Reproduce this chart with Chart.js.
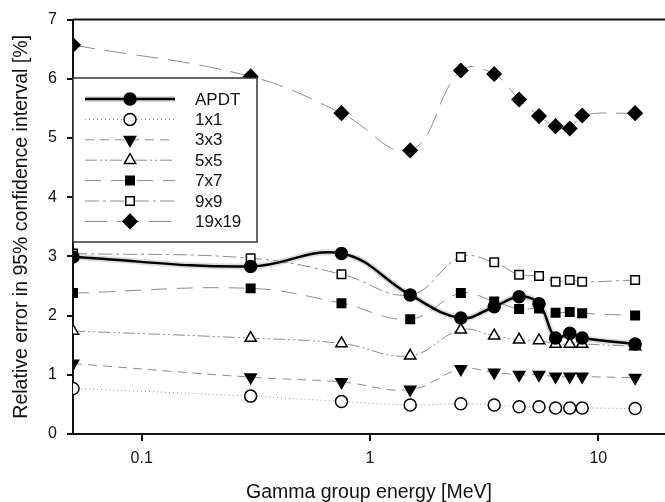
<!DOCTYPE html>
<html>
<head>
<meta charset="utf-8">
<script src="https://cdn.jsdelivr.net/npm/chart.js@4/dist/chart.umd.min.js"></script>
<style>
  html, body { margin: 0; padding: 0; background: #fff; overflow: hidden; }
  #wrap { width: 665px; height: 502px; }
</style>
</head>
<body>
<div id="wrap"><canvas id="errorChart" width="665" height="502"></canvas></div>
<script>
// gamma group energies [MeV]
var energies = [0.05, 0.3, 0.75, 1.5, 2.5, 3.5, 4.5, 5.5, 6.5, 7.5, 8.5, 14.5];
var xTicks = [0.1, 1, 10];

// relative error in 95% confidence interval [%]
var apdt   = [2.99, 2.83, 3.05, 2.35, 1.96, 2.15, 2.32, 2.20, 1.62, 1.70, 1.62, 1.52];
var s1x1   = [0.77, 0.64, 0.55, 0.49, 0.51, 0.49, 0.46, 0.46, 0.44, 0.44, 0.44, 0.43];
var s3x3   = [1.19, 0.96, 0.88, 0.75, 1.10, 1.04, 1.00, 1.00, 0.97, 0.97, 0.97, 0.95];
var s5x5   = [1.74, 1.62, 1.53, 1.32, 1.76, 1.66, 1.59, 1.58, 1.52, 1.52, 1.52, 1.48];
var s7x7   = [2.38, 2.46, 2.21, 1.94, 2.38, 2.24, 2.11, 2.12, 2.05, 2.06, 2.04, 2.00];
var s9x9   = [3.05, 2.97, 2.70, 2.35, 2.99, 2.90, 2.69, 2.67, 2.57, 2.60, 2.57, 2.60];
var s19x19 = [6.57, 6.04, 5.42, 4.79, 6.14, 6.08, 5.65, 5.37, 5.20, 5.16, 5.38, 5.42];

function pts(vals) {
  return vals.map(function (v, i) { return { x: energies[i], y: v }; });
}

var FONT = '"Liberation Sans", Arial, sans-serif';
var lineGrey = '#8c8c8c';
var series = [
  { label: 'APDT',  data: apdt,   dash: [],                   color: '#000', width: 2.5, style: 'circle',   rot: 0,   fill: '#000', r: 6 },
  { label: '1x1',   data: s1x1,   dash: [1, 3],               color: lineGrey, width: 1, style: 'circle',   rot: 0,   fill: '#fff', r: 6 },
  { label: '3x3',   data: s3x3,   dash: [9, 6],               color: lineGrey, width: 1, style: 'triangle', rot: 180, fill: '#000', r: 6.5 },
  { label: '5x5',   data: s5x5,   dash: [12, 3, 2, 3, 2, 3],  color: lineGrey, width: 1, style: 'triangle', rot: 0,   fill: '#fff', r: 6.5 },
  { label: '7x7',   data: s7x7,   dash: [16, 10],             color: lineGrey, width: 1, style: 'rect',     rot: 0,   fill: '#000', r: 6 },
  { label: '9x9',   data: s9x9,   dash: [14, 4, 3, 4],        color: lineGrey, width: 1, style: 'rect',     rot: 0,   fill: '#fff', r: 6 },
  { label: '19x19', data: s19x19, dash: [22, 10],             color: lineGrey, width: 1, style: 'rectRot',  rot: 0,   fill: '#000', r: 7 }
];

var datasets = series.map(function (s) {
  return {
    label: s.label,
    data: pts(s.data),
    borderColor: s.color,
    borderWidth: s.width,
    borderDash: s.dash,
    tension: 0.4,
    pointStyle: s.style,
    pointRotation: s.rot,
    pointRadius: s.r,
    pointBackgroundColor: s.fill,
    pointBorderColor: '#000',
    pointBorderWidth: 1.5
  };
});
// soft grey halo under the APDT curve
datasets.push({
  label: 'halo',
  data: pts(apdt),
  borderColor: 'rgba(0,0,0,0.14)',
  borderWidth: 6,
  tension: 0.4,
  pointRadius: 0
});

var frame = {
  id: 'frame',
  afterDraw: function (chart) {
    var ctx = chart.ctx, a = chart.chartArea;
    ctx.save();
    ctx.strokeStyle = '#111';
    ctx.lineWidth = 2;
    ctx.beginPath();
    ctx.moveTo(a.left, a.top);
    ctx.lineTo(chart.width, a.top);
    ctx.stroke();

    // legend box
    var bx = 73, by = 78, bw = 184, bh = 164;
    ctx.fillStyle = '#fff';
    ctx.fillRect(bx, by, bw, bh);
    ctx.lineWidth = 1.5;
    ctx.strokeStyle = '#333';
    ctx.strokeRect(bx, by, bw, bh);
    ctx.font = '17px ' + FONT;
    ctx.textBaseline = 'middle';
    series.forEach(function (s, i) {
      var y = 99 + i * 20.4;
      ctx.save();
      if (i === 0) {
        ctx.strokeStyle = 'rgba(0,0,0,0.14)';
        ctx.lineWidth = 6;
        ctx.beginPath(); ctx.moveTo(85, y); ctx.lineTo(175, y); ctx.stroke();
      }
      ctx.strokeStyle = s.color;
      ctx.lineWidth = s.width;
      ctx.setLineDash(s.dash);
      ctx.beginPath(); ctx.moveTo(85, y); ctx.lineTo(175, y); ctx.stroke();
      ctx.setLineDash([]);
      ctx.fillStyle = s.fill;
      ctx.strokeStyle = '#000';
      ctx.lineWidth = 1.5;
      Chart.helpers.drawPoint(ctx, { pointStyle: s.style, rotation: s.rot, radius: s.r, borderWidth: 1.5 }, 130, y);
      ctx.restore();
      ctx.fillStyle = '#111';
      ctx.fillText(s.label, 195, y + 1);
    });
    ctx.restore();
  }
};

new Chart(document.getElementById('errorChart').getContext('2d'), {
  type: 'line',
  data: { datasets: datasets },
  options: {
    responsive: false,
    animation: false,
    layout: { autoPadding: false, padding: { top: 19, right: 0, left: 0, bottom: 0 } },
    plugins: { legend: { display: false }, tooltip: { enabled: false } },
    scales: {
      x: {
        type: 'logarithmic',
        min: 0.05,
        max: 19.6,
        afterBuildTicks: function (scale) {
          scale.ticks = xTicks.map(function (v) { return { value: v }; });
        },
        afterFit: function (scale) { scale.height = 68; },
        ticks: {
          color: '#111',
          font: { family: FONT, size: 16 },
          padding: 8,
          maxRotation: 0,
          callback: function (v) { return String(v); }
        },
        grid: { drawOnChartArea: false, tickLength: 7, color: '#111', lineWidth: 2 },
        border: { color: '#111', width: 2 },
        title: {
          display: true,
          text: 'Gamma group energy [MeV]',
          color: '#111',
          font: { family: FONT, size: 19.5, lineHeight: 1 },
          padding: { top: 14, bottom: 0 }
        }
      },
      y: {
        min: 0,
        max: 7,
        afterFit: function (scale) { scale.width = 73; },
        ticks: {
          stepSize: 1,
          color: '#111',
          font: { family: FONT, size: 16 },
          padding: 10
        },
        grid: { drawOnChartArea: false, tickLength: 6, color: '#111', lineWidth: 2 },
        border: { color: '#111', width: 2 },
        title: {
          display: true,
          text: 'Relative error in 95% confidence interval [%]',
          color: '#111',
          font: { family: FONT, size: 19.5 },
          padding: { top: 10, bottom: 0 }
        }
      }
    }
  },
  plugins: [frame]
});
</script>
</body>
</html>
